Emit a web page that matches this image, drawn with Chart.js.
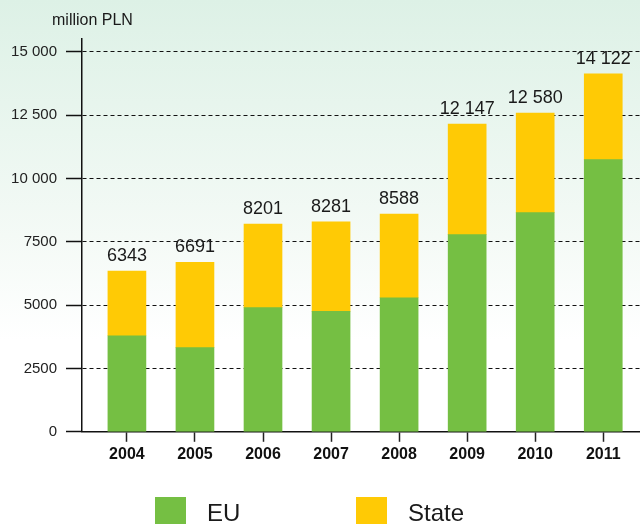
<!DOCTYPE html>
<html>
<head>
<meta charset="utf-8">
<script src="https://cdn.jsdelivr.net/npm/chart.js@4"></script>
<style>
  html, body { margin: 0; padding: 0; }
  body {
    width: 640px; height: 524px; overflow: hidden;
    background: linear-gradient(to bottom, #ddf1e6 0%, #f4faf6 45%, #ffffff 65%, #ffffff 100%);
  }
  #wrap { position: relative; width: 640px; height: 524px; }
</style>
</head>
<body>
<div id="wrap"><canvas id="chart"></canvas></div>
<script>
const years = ['2004', '2005', '2006', '2007', '2008', '2009', '2010', '2011'];
const totals = [6343, 6691, 8201, 8281, 8588, 12147, 12580, 14122];
const euFunds = [3790, 3320, 4900, 4750, 5290, 7780, 8650, 10740];
const stateFunds = totals.map((t, i) => t - euFunds[i]);
const yTicks = [0, 2500, 5000, 7500, 10000, 12500, 15000];

const FONT = '"Liberation Sans", Arial, sans-serif';
const GREEN = '#75bf43';
const YELLOW = '#ffca05';

function fmt(v) {
  if (v < 10000) return String(v);
  const s = String(v);
  return s.slice(0, s.length - 3) + ' ' + s.slice(-3);
}

const totalLabels = {
  id: 'totalLabels',
  afterDatasetsDraw(chart) {
    const ctx = chart.ctx;
    const top = chart.getDatasetMeta(chart.data.datasets.length - 1);
    ctx.save();
    ctx.font = '18px ' + FONT;
    ctx.fillStyle = '#1a1a1a';
    ctx.textAlign = 'center';
    ctx.textBaseline = 'alphabetic';
    top.data.forEach((bar, i) => {
      ctx.fillText(fmt(totals[i]), bar.x, bar.y - 10);
    });
    // unit caption above the y axis
    ctx.font = '16px ' + FONT;
    ctx.textAlign = 'left';
    ctx.fillText('million PLN', chart.chartArea.left - 30, 25);
    ctx.restore();
  }
};

const boxLegend = {
  id: 'boxLegend',
  afterDraw(chart) {
    const ctx = chart.ctx;
    ctx.save();
    ctx.font = '24px ' + FONT;
    ctx.textBaseline = 'alphabetic';
    ctx.textAlign = 'left';
    chart.data.datasets.forEach((ds, i) => {
      const x = 155 + i * 201;
      ctx.fillStyle = ds.backgroundColor;
      ctx.fillRect(x, 497, 31, 31);
      ctx.fillStyle = '#1a1a1a';
      ctx.fillText(ds.label, x + 52, 521);
    });
    ctx.restore();
  }
};

new Chart(document.getElementById('chart'), {
  type: 'bar',
  data: {
    datasets: [
      {
        label: 'EU',
        data: euFunds.map((v, i) => ({ x: i, y: v })),
        backgroundColor: GREEN,
        barThickness: 38
      },
      {
        label: 'State',
        data: stateFunds.map((v, i) => ({ x: i, y: v })),
        backgroundColor: YELLOW,
        barThickness: 38
      }
    ]
  },
  options: {
    responsive: true,
    maintainAspectRatio: false,
    animation: false,
    layout: { padding: { top: 39, right: 0, bottom: 57, left: 0 } },
    plugins: {
      legend: { display: false },
      tooltip: { enabled: false }
    },
    scales: {
      x: {
        type: 'linear',
        stacked: true,
        offset: false,
        min: -0.66,
        max: 7.54,
        afterBuildTicks: scale => { scale.ticks = years.map((_, i) => ({ value: i })); },
        ticks: {
          callback: v => years[v],
          color: '#111',
          font: { family: FONT, size: 16, weight: 'bold' },
          padding: 3,
          maxRotation: 0,
          autoSkip: false
        },
        grid: {
          offset: false,
          drawOnChartArea: false,
          drawTicks: true,
          tickLength: 10,
          tickColor: '#222',
          tickWidth: 1.5
        },
        border: { display: true, color: '#111', width: 1.5 }
      },
      y: {
        stacked: true,
        min: 0,
        max: 15500,
        afterBuildTicks: scale => { scale.ticks = yTicks.map(v => ({ value: v })); },
        afterFit: scale => { scale.width = 82; },
        ticks: {
          callback: v => fmt(v),
          color: '#222',
          font: { family: FONT, size: 15 },
          padding: 9
        },
        grid: {
          color: '#111',
          lineWidth: 1,
          tickLength: 16,
          tickColor: '#111',
          tickWidth: 1.5
        },
        border: { display: true, color: '#111', width: 1.5, dash: [4, 3] }
      }
    }
  },
  plugins: [totalLabels, boxLegend]
});
</script>
</body>
</html>
